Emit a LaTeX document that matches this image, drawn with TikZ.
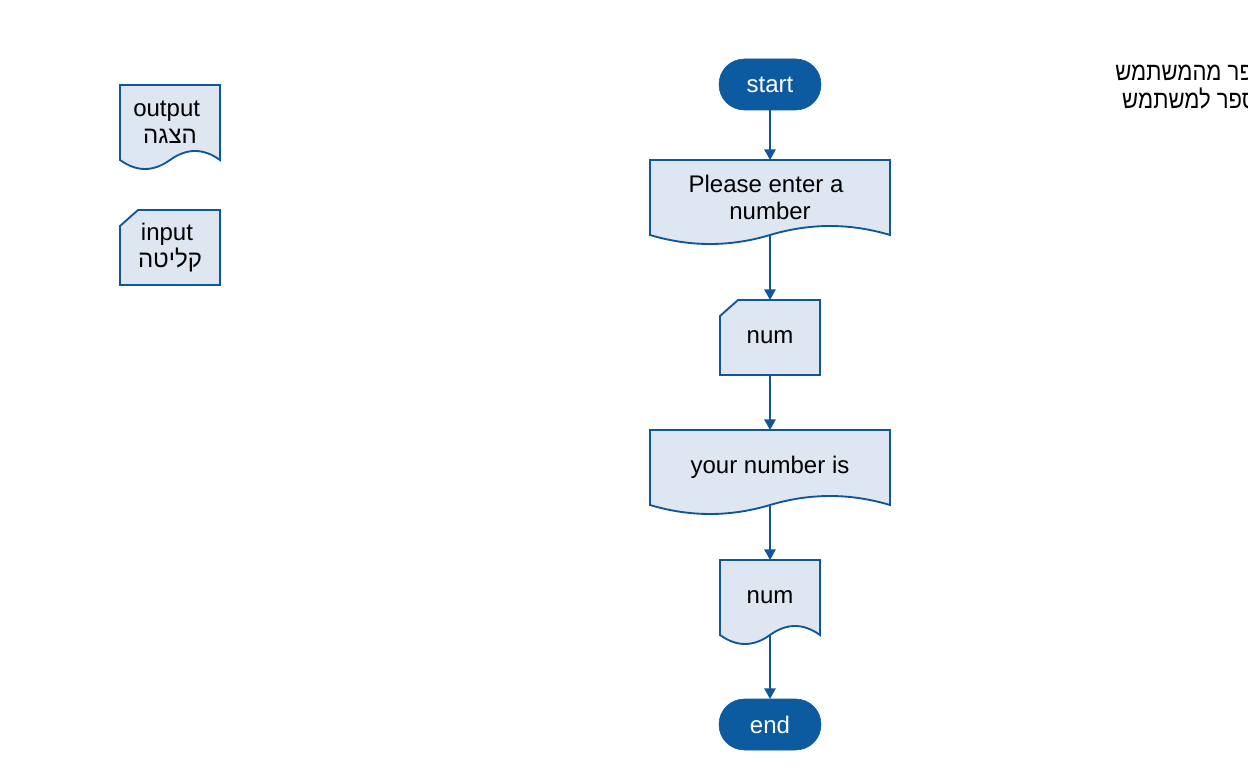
\documentclass[tikz,border=0pt]{standalone}
\usepackage{fontspec}
\setmainfont{Liberation Sans}
\newfontfamily\heb[Script=Hebrew]{Liberation Sans}
\TeXXeTstate=1
\usetikzlibrary{arrows.meta,calc,backgrounds}
\definecolor{strokeblue}{HTML}{10569A}
\definecolor{lightfill}{HTML}{DEE6F1}
\definecolor{pillblue}{HTML}{0C5AA0}

\newcommand{\wavedoc}[1]{%
  \path[shapeline] (#1.north west) -- (#1.north east) -- (#1.south east)
    .. controls ($(#1.south east)!1/3!(#1.south)+(0,-12)$) and ($(#1.south east)!2/3!(#1.south)+(0,-12)$) .. (#1.south)
    .. controls ($(#1.south)!1/3!(#1.south west)+(0,12)$) and ($(#1.south)!2/3!(#1.south west)+(0,12)$) .. (#1.south west)
    -- cycle;}
\newcommand{\cardshape}[1]{%
  \path[shapeline] ($(#1.north west)+(18,0)$) -- (#1.north east) -- (#1.south east)
    -- (#1.south west) -- ($(#1.north west)+(0,16)$) -- cycle;}

\begin{document}
\begin{tikzpicture}[x=0.75pt,y=-0.75pt,
  every node/.style={font=\fontsize{18pt}{20.25pt}\selectfont},
  box/.style={rectangle, inner sep=0pt, outer sep=0pt, minimum width=75pt,
    minimum height=56.25pt, align=center, text=black},
  widebox/.style={box, minimum width=180pt},
  terminal/.style={rectangle, rounded corners=19pt, fill=pillblue, draw=pillblue,
    text=white, minimum width=76.5pt, minimum height=38.25pt, inner sep=0pt, outer sep=0pt},
  flow/.style={draw=strokeblue, line width=1.4pt, -{Triangle[length=8pt,width=8.5pt]}},
  shapeline/.style={draw=strokeblue, fill=lightfill, line width=1.4pt},
  note/.style={inner sep=0pt, anchor=west, text=black, xscale=0.87, transform shape,
    font=\fontsize{19pt}{22pt}\selectfont}]
\useasboundingbox (0,0) rectangle (1248,770);
\clip (0,0) rectangle (1248,770);

% flow
\node[terminal] (start) at (770,84.5) {start};
\node[widebox] (ask) at (770,197.5) {Please enter a\hspace*{6pt}\\number};
\node[box] (in) at (770,337.5) {num};
\node[widebox] (show) at (770,467.5) {your number is};
\node[box] (out) at (770,597.5) {num};
\node[terminal] (end) at (770,724.5) {end};

% legend
\node[box] (legout) at (170,122.5) {output\hspace*{5pt}\\{\heb\beginR הצגה\endR}};
\node[box] (legin) at (170,247.5) {input\hspace*{4.5pt}\\{\heb\beginR קליטה\endR}};

% notes (cut at the right edge)
\node[note] (n1) at (1115,73) {\heb\beginR מספר מהמשתמש\endR};
\node[note] (n2) at (1122,98) {\heb\beginR מספר למשתמש\endR};

\begin{pgfonlayer}{background}
  \fill[white] (0,0) rectangle (1248,770);
  \wavedoc{ask}
  \cardshape{in}
  \wavedoc{show}
  \wavedoc{out}
  \wavedoc{legout}
  \cardshape{legin}
\end{pgfonlayer}

\draw[flow] (start) -- (ask);
\draw[flow] (ask.south) -- (in.north);
\draw[flow] (in) -- (show);
\draw[flow] (show.south) -- (out.north);
\draw[flow] (out.south) -- (end.north);
\end{tikzpicture}
\end{document}
